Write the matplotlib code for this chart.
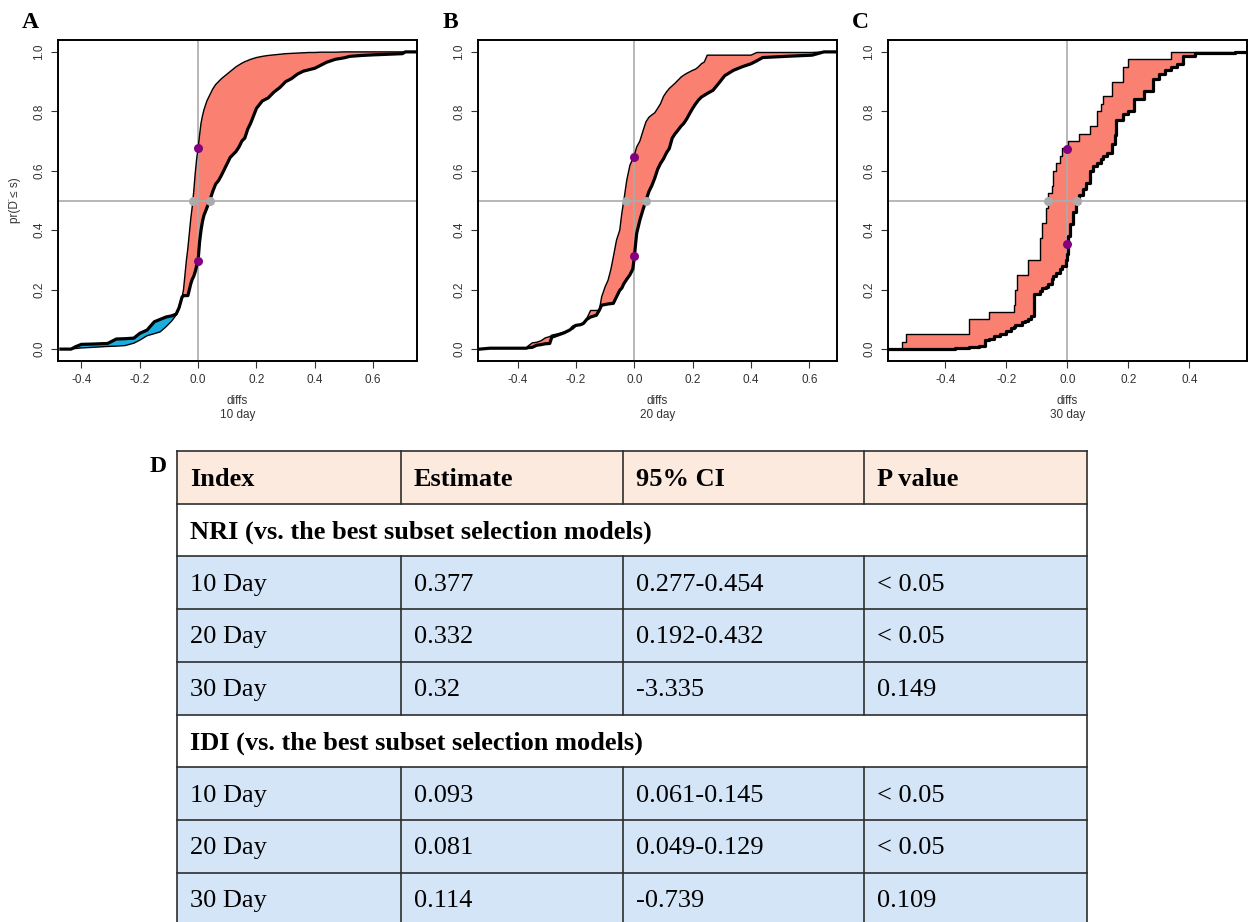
import matplotlib.pyplot as plt
from matplotlib.patches import Rectangle
import numpy as np

plt.rcParams['font.family'] = ['Liberation Sans', 'DejaVu Sans']

# ---- panel A (10 day): common x grid, ECDF of the two curves ----
a_x = [-0.47, -0.435, -0.42, -0.40, -0.36, -0.31, -0.28, -0.25, -0.22, -0.20,
       -0.175, -0.15, -0.13, -0.11, -0.09, -0.075, -0.065, -0.055, -0.05, -0.045,
       -0.04, -0.035, -0.03, -0.025, -0.02, -0.015, -0.01, -0.005, 0.0, 0.005,
       0.01, 0.015, 0.02, 0.03, 0.04, 0.05, 0.06, 0.07, 0.08, 0.09,
       0.10, 0.11, 0.12, 0.13, 0.14, 0.15, 0.16, 0.17, 0.18, 0.19,
       0.20, 0.22, 0.24, 0.26, 0.28, 0.30, 0.32, 0.34, 0.36, 0.38,
       0.40, 0.42, 0.44, 0.47, 0.50, 0.52, 0.56, 0.60, 0.65, 0.70,
       0.71, 0.75]
a_thin = [0.0, 0.0, 0.002, 0.004, 0.006, 0.009, 0.010, 0.012, 0.020, 0.030,
          0.045, 0.052, 0.058, 0.075, 0.095, 0.115, 0.135, 0.175, 0.20, 0.25,
          0.30, 0.34, 0.39, 0.44, 0.48, 0.53, 0.59, 0.64, 0.676, 0.72,
          0.76, 0.785, 0.805, 0.835, 0.855, 0.875, 0.89, 0.90, 0.91, 0.918,
          0.926, 0.934, 0.942, 0.95, 0.956, 0.962, 0.967, 0.971, 0.975, 0.978,
          0.981, 0.985, 0.988, 0.990, 0.992, 0.994, 0.995, 0.996, 0.997, 0.998,
          0.998, 0.999, 0.999, 0.999, 1.0, 1.0, 1.0, 1.0, 1.0, 1.0,
          1.0, 1.0]
a_thick = [0.0, 0.0, 0.008, 0.016, 0.017, 0.019, 0.034, 0.035, 0.037, 0.053,
           0.064, 0.092, 0.100, 0.108, 0.112, 0.118, 0.14, 0.175, 0.18, 0.18,
           0.18, 0.18, 0.20, 0.22, 0.235, 0.245, 0.26, 0.28, 0.298, 0.36,
           0.40, 0.43, 0.45, 0.475, 0.50, 0.53, 0.555, 0.567, 0.585, 0.605,
           0.625, 0.645, 0.655, 0.665, 0.68, 0.70, 0.71, 0.74, 0.76, 0.785,
           0.81, 0.835, 0.845, 0.865, 0.88, 0.90, 0.91, 0.925, 0.935, 0.94,
           0.945, 0.955, 0.965, 0.975, 0.98, 0.985, 0.988, 0.99, 0.992, 0.994,
           1.0, 1.0]

# ---- panel B (20 day) ----
b_x = [-0.53, -0.495, -0.37, -0.365, -0.35, -0.335, -0.32, -0.305, -0.29, -0.283,
       -0.26, -0.24, -0.22, -0.21, -0.20, -0.185, -0.175, -0.163, -0.15, -0.13,
       -0.12, -0.112, -0.10, -0.09, -0.08, -0.072, -0.061, -0.05, -0.043, -0.036,
       -0.026, -0.015, -0.005, 0.0, 0.008, 0.019, 0.03, 0.04, 0.05, 0.06,
       0.07, 0.08, 0.09, 0.10, 0.11, 0.12, 0.13, 0.14, 0.15, 0.16,
       0.17, 0.18, 0.19, 0.20, 0.21, 0.22, 0.23, 0.24, 0.25, 0.27,
       0.29, 0.31, 0.34, 0.37, 0.40, 0.42, 0.44, 0.52, 0.61, 0.65,
       0.70]
b_thin = [0.0, 0.003, 0.003, 0.010, 0.021, 0.023, 0.028, 0.038, 0.042, 0.047,
          0.052, 0.058, 0.066, 0.068, 0.078, 0.082, 0.086, 0.103, 0.130, 0.130,
          0.131, 0.176, 0.21, 0.232, 0.27, 0.31, 0.367, 0.40, 0.456, 0.50,
          0.568, 0.619, 0.640, 0.652, 0.68, 0.70, 0.735, 0.765, 0.78, 0.788,
          0.795, 0.81, 0.826, 0.85, 0.865, 0.877, 0.886, 0.895, 0.905, 0.915,
          0.922, 0.928, 0.933, 0.938, 0.942, 0.950, 0.960, 0.966, 0.989, 0.989,
          0.989, 0.989, 0.989, 0.989, 0.989, 0.998, 0.998, 0.998, 0.998, 1.0,
          1.0]
b_thick = [0.0, 0.003, 0.003, 0.005, 0.006, 0.013, 0.015, 0.018, 0.019, 0.040,
           0.048, 0.055, 0.065, 0.075, 0.080, 0.082, 0.086, 0.100, 0.108, 0.114,
           0.131, 0.148, 0.150, 0.152, 0.153, 0.154, 0.176, 0.198, 0.205, 0.22,
           0.235, 0.25, 0.27, 0.31, 0.389, 0.434, 0.47, 0.50, 0.53, 0.55,
           0.575, 0.605, 0.625, 0.64, 0.66, 0.675, 0.71, 0.725, 0.737, 0.75,
           0.76, 0.775, 0.793, 0.81, 0.825, 0.838, 0.848, 0.854, 0.86, 0.871,
           0.895, 0.92, 0.938, 0.95, 0.96, 0.97, 0.981, 0.985, 0.989, 1.0,
           1.0]

# ---- panel C (30 day) ----
c_x = [-0.585, -0.543, -0.529, -0.396, -0.368, -0.321, -0.29, -0.27, -0.256, -0.24,
       -0.22, -0.20, -0.185, -0.176, -0.170, -0.165, -0.15, -0.14, -0.128, -0.12,
       -0.109, -0.09, -0.083, -0.07, -0.062, -0.051, -0.046, -0.037, -0.024, -0.019,
       -0.005, 0.0, 0.003, 0.01, 0.02, 0.03, 0.039, 0.05, 0.06, 0.074,
       0.085, 0.096, 0.109, 0.118, 0.13, 0.145, 0.155, 0.16, 0.184, 0.20,
       0.22, 0.25, 0.28, 0.30, 0.32, 0.339, 0.36, 0.38, 0.42, 0.55,
       0.59]
c_thin = [0.0, 0.025, 0.05, 0.05, 0.05, 0.10, 0.10, 0.10, 0.125, 0.125,
          0.125, 0.125, 0.125, 0.15, 0.20, 0.25, 0.25, 0.25, 0.30, 0.30,
          0.30, 0.375, 0.425, 0.475, 0.525, 0.55, 0.60, 0.625, 0.65, 0.675,
          0.675, 0.675, 0.70, 0.70, 0.70, 0.70, 0.725, 0.725, 0.725, 0.75,
          0.75, 0.80, 0.825, 0.85, 0.85, 0.90, 0.90, 0.90, 0.95, 0.975,
          0.975, 0.975, 0.975, 0.975, 0.975, 1.0, 1.0, 1.0, 1.0, 1.0,
          1.0]
c_thick = [0.0, 0.0, 0.0, 0.002, 0.005, 0.008, 0.012, 0.03, 0.035, 0.045,
           0.052, 0.06, 0.07, 0.075, 0.08, 0.082, 0.09, 0.095, 0.10, 0.11,
           0.187, 0.195, 0.205, 0.21, 0.22, 0.235, 0.245, 0.255, 0.27, 0.28,
           0.30, 0.32, 0.38, 0.42, 0.46, 0.49, 0.52, 0.54, 0.56, 0.60,
           0.615, 0.625, 0.64, 0.65, 0.66, 0.69, 0.72, 0.77, 0.79, 0.80,
           0.84, 0.87, 0.91, 0.925, 0.94, 0.95, 0.96, 0.985, 0.995, 1.0,
           1.0]

# medians (grey) and values at 0 (purple)
med_thin = [-0.018, -0.030, -0.062]
med_thick = [0.042, 0.039, 0.033]
zero_thin = [0.676, 0.645, 0.674]
zero_thick = [0.298, 0.313, 0.353]

# the 10 and 20 day curves have many tiny steps, the 30 day one has big ones
panels = [
    ('A', '10 day', a_x, a_thin, a_thick, (-0.48, 0.75), [-0.4, -0.2, 0.0, 0.2, 0.4, 0.6], None),
    ('B', '20 day', b_x, b_thin, b_thick, (-0.536, 0.695), [-0.4, -0.2, 0.0, 0.2, 0.4, 0.6], None),
    ('C', '30 day', c_x, c_thin, c_thick, (-0.588, 0.589), [-0.4, -0.2, 0.0, 0.2, 0.4], 'post'),
]
lefts = [58, 478, 888]

# table
header = ['Index', 'Estimate', '95% CI', 'P value']
rows = [
    ('NRI (vs. the best subset selection models)',),
    ('10 Day', '0.377', '0.277-0.454', '< 0.05'),
    ('20 Day', '0.332', '0.192-0.432', '< 0.05'),
    ('30 Day', '0.32', '-3.335', '0.149'),
    ('IDI (vs. the best subset selection models)',),
    ('10 Day', '0.093', '0.061-0.145', '< 0.05'),
    ('20 Day', '0.081', '0.049-0.129', '< 0.05'),
    ('30 Day', '0.114', '-0.739', '0.109'),
]

W, H = 1252, 922
fig = plt.figure(figsize=(W / 100, H / 100), dpi=100)

salmon = '#FA8072'
blue = '#1AAEE0'
grey = '#ABABAB'
purple = '#85007F'
txt_c = '#333333'

for i, (lab, day, x, thin, thick, xlim, xt, st) in enumerate(panels):
    ax = fig.add_axes([lefts[i] / W, (H - 361) / H, 359 / W, 321 / H])
    x = np.array(x)
    thin = np.array(thin)
    thick = np.array(thick)
    interp = st is None
    ax.fill_between(x, thin, thick, where=thin >= thick, step=st, interpolate=interp,
                    color=salmon, lw=0, zorder=1)
    ax.fill_between(x, thin, thick, where=thin <= thick, step=st, interpolate=interp,
                    color=blue, lw=0, zorder=1)
    ax.axhline(0.5, color=grey, lw=1.2, zorder=2)
    ax.axvline(0.0, color=grey, lw=1.2, zorder=2)
    ds = 'default' if st is None else 'steps-post'
    ax.plot(x, thin, drawstyle=ds, color='black', lw=1.0, zorder=3)
    ax.plot(x, thick, drawstyle=ds, color='black', lw=2.3, zorder=3)
    ax.plot([med_thin[i], med_thick[i]], [0.5, 0.5], color=grey, lw=1.2, zorder=4)
    ax.scatter([med_thin[i], med_thick[i]], [0.5, 0.5], s=42, color=grey, zorder=5, lw=0)
    ax.scatter([0, 0], [zero_thin[i], zero_thick[i]], s=42, color=purple, zorder=5, lw=0)
    ax.set_xlim(*xlim)
    ax.set_ylim(-0.04, 1.04)
    ax.set_xticks(xt)
    ax.set_xticklabels([f'{v:.1f}' for v in xt])
    ax.set_yticks([0.0, 0.2, 0.4, 0.6, 0.8, 1.0])
    ax.set_yticklabels(['0.0', '0.2', '0.4', '0.6', '0.8', '1.0'], rotation=90, va='center')
    ax.tick_params(labelsize=8.5, length=5, width=0.8, pad=4, colors=txt_c)
    for s in ax.spines.values():
        s.set_linewidth(1.4)
    ax.set_xlabel('diffs\n' + day, fontsize=8.5, labelpad=7, linespacing=1.25, color=txt_c)
    if i == 0:
        ax.set_ylabel('pr(D\u0308 \u2264 s)', fontsize=8.5, labelpad=9, color=txt_c)
    fig.text((lefts[i] - 28) / W, 1 - 23 / H, lab, fontsize=17, fontweight='bold',
             family='Liberation Serif', ha='center', va='center')

# table drawn in pixel coordinates
tax = fig.add_axes([0, 0, 1, 1])
tax.set_xlim(0, W)
tax.set_ylim(H, 0)
tax.axis('off')

col_x = [177, 401, 623, 864, 1087]
row_y = [451 + 52.7 * k for k in range(10)]
peach = '#FDEADF'
light_blue = '#D4E5F8'
line_c = '#2E2E2E'
fs = 19

tax.add_patch(Rectangle((col_x[0], row_y[0]), col_x[-1] - col_x[0], row_y[1] - row_y[0],
                        facecolor=peach, edgecolor='none'))
for j, h in enumerate(header):
    tax.text(col_x[j] + 13, (row_y[0] + row_y[1]) / 2 + 2, h, fontsize=fs, fontweight='bold',
             family='Liberation Serif', va='center', ha='left')
for r, row in enumerate(rows):
    y0, y1 = row_y[r + 1], row_y[r + 2]
    if len(row) == 1:
        tax.add_patch(Rectangle((col_x[0], y0), col_x[-1] - col_x[0], y1 - y0,
                                facecolor='white', edgecolor='none'))
        tax.text(col_x[0] + 13, (y0 + y1) / 2 + 2, row[0], fontsize=fs, fontweight='bold',
                 family='Liberation Serif', va='center', ha='left')
    else:
        tax.add_patch(Rectangle((col_x[0], y0), col_x[-1] - col_x[0], y1 - y0,
                                facecolor=light_blue, edgecolor='none'))
        for j, v in enumerate(row):
            tax.text(col_x[j] + 13, (y0 + y1) / 2 + 2, v, fontsize=fs,
                     family='Liberation Serif', va='center', ha='left')
        for cx in col_x[1:-1]:
            tax.plot([cx, cx], [y0, y1], color=line_c, lw=1.2)
    tax.plot([col_x[0], col_x[-1]], [y0, y0], color=line_c, lw=1.2)
for cx in col_x[1:-1]:
    tax.plot([cx, cx], [row_y[0], row_y[1]], color=line_c, lw=1.2)
tax.plot([col_x[0], col_x[-1]], [row_y[0], row_y[0]], color=line_c, lw=1.2)
tax.plot([col_x[0], col_x[0]], [row_y[0], row_y[-1]], color=line_c, lw=1.2)
tax.plot([col_x[-1], col_x[-1]], [row_y[0], row_y[-1]], color=line_c, lw=1.2)
tax.text(158, 466, 'D', fontsize=17, fontweight='bold', family='Liberation Serif',
         ha='center', va='center')

fig.savefig('out.png', dpi=100)
